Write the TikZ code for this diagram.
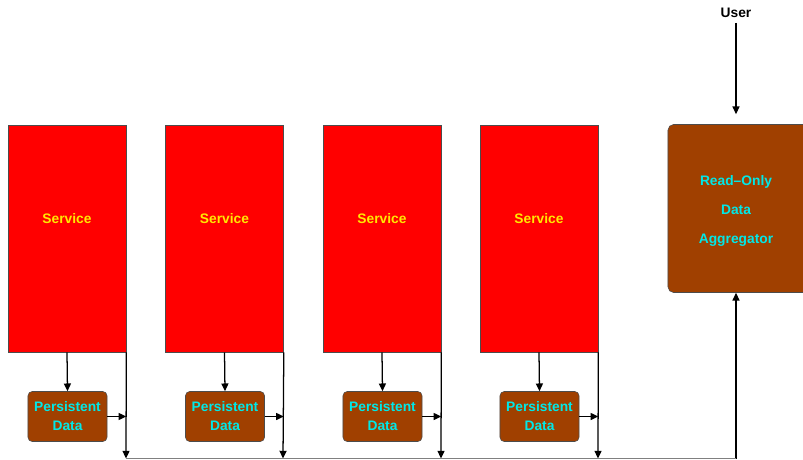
\documentclass[tikz,border=0pt]{standalone}
\usepackage{fontspec}
\setmainfont{Liberation Sans}
\usetikzlibrary{arrows.meta}
\definecolor{svcred}{RGB}{255,0,0}
\definecolor{storebrown}{RGB}{160,64,0}
\definecolor{svcyellow}{RGB}{255,232,0}
\definecolor{storecyan}{RGB}{0,232,232}
\tikzset{
  service/.style={draw=black!70, fill=svcred, inner sep=0pt,
    minimum width=2.95cm, minimum height=5.675cm},
  store/.style={draw=black!70, fill=storebrown, rounded corners=3pt,
    minimum width=1.975cm, minimum height=1.25cm, inner sep=0pt,
    align=center, text=storecyan, font=\fontsize{9.8}{13.5}\selectfont\bfseries},
  svclabel/.style={text=svcyellow, font=\fontsize{9.8}{12}\selectfont\bfseries},
  flow/.style={-{Triangle[length=5.5pt,width=5pt]}, line width=0.9pt}
}
\begin{document}
\begin{tikzpicture}[x=0.025cm, y=-0.025cm]
      \useasboundingbox (0,0) rectangle (803,460);
      \draw
        (67,238.5) node[service] (s1){}
        (224.5,238.5) node[service] (s2){}
        (382,238.5) node[service] (s3){}
        (539,238.5) node[service] (s4){};
      \draw
        (67,219) node[svclabel] (t1){Service}
        (224.5,219) node[svclabel] (t2){Service}
        (382,219) node[svclabel] (t3){Service}
        (539,219) node[svclabel] (t4){Service};
      \draw
        (67.5,416.5) node[store] (p1){Persistent\\Data}
        (225,416.5) node[store] (p2){Persistent\\Data}
        (382.5,416.5) node[store] (p3){Persistent\\Data}
        (539.5,416.5) node[store] (p4){Persistent\\Data};
      \node[draw=black!70, fill=storebrown, rounded corners=4pt, inner sep=0pt,
        minimum width=3.55cm, minimum height=4.2cm] (agg) at (739,208.5){};
      \node[align=center, text=storecyan,
        font=\fontsize{9.8}{20.6}\selectfont\bfseries] (aggtext) at (736,211)
        {Read--Only\\Data\\Aggregator};
      \node[font=\fontsize{9.8}{12}\selectfont\bfseries] (user) at (736,13){User};
      \coordinate (b1) at (126,458.5);
      \coordinate (b2) at (283,458.5);
      \coordinate (b3) at (441,458.5);
      \coordinate (b4) at (598,458.5);
      \coordinate (b5) at (736,458.5);
      \begin{scope}[flow]
        \draw (s1.south) to (p1.north);
        \draw (s2.south) to (p2.north);
        \draw (s3.south) to (p3.north);
        \draw (s4.south) to (p4.north);
        \draw (p1.east) to (p1.east -| s1.east);
        \draw (p2.east) to (p2.east -| s2.east);
        \draw (p3.east) to (p3.east -| s3.east);
        \draw (p4.east) to (p4.east -| s4.east);
        \draw (s1.south east) to (b1);
        \draw (s2.south east) to (b2);
        \draw (s3.south east) to (b3);
        \draw (s4.south east) to (b4);
        \draw (b5) to (b5 |- agg.south);
        \draw (user.south) to ([yshift=0.25cm]agg.north -| user.south);
      \end{scope}
      \draw[gray, line width=0.6pt] (b1) to (b5);
    \end{tikzpicture}
\end{document}
